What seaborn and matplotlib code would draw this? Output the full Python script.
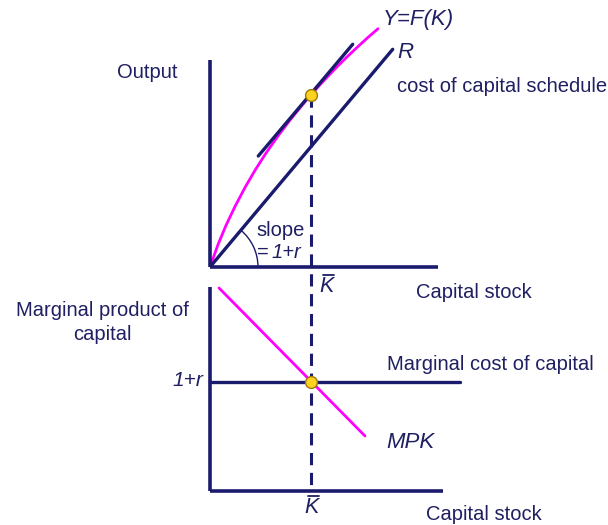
import numpy as np
import matplotlib
matplotlib.use("Agg")
import matplotlib.pyplot as plt
from matplotlib.patches import Arc
from matplotlib.lines import Line2D
import seaborn as sns

sns.set_theme(style="white")
plt.rcParams['font.family'] = ['Liberation Sans', 'DejaVu Sans']

# ---------------- data (diagram units) ----------------
# top panel: production function Y = F(K)
f_k = [0, 8, 16, 25, 35, 45, 56, 68, 80, 92, 101, 112, 124, 136, 148, 158, 168]
f_y = [0, 22.4, 41.6, 60.5, 79.5, 96.7, 113.9, 131.0, 146.9, 161.6, 172.1,
       184.4, 197.1, 209.1, 220.5, 229.6, 238.3]
# cost of capital schedule R (line through origin)
r_k = [0, 182.7]
r_y = [0, 217.7]
# tangent to F at K-bar
tan_k = [48.3, 142.7]
tan_y = [111, 222.7]
k_bar = 101
y_at_kbar = 172.1

# bottom panel
mpk_k = [9, 155]
mpk_v = [203, 55]
mcc_k = [0, 250]
one_plus_r = 109

NAVY = '#1b1b6e'
TEXT = '#1f1f62'
MAG = '#ff00ff'
YEL = '#ffd21f'

W, H = 608, 525
fig = plt.figure(figsize=(W / 100, H / 100), dpi=100)


def add_axes_px(x0, y_top, x1, y_bot):
    return fig.add_axes([x0 / W, 1 - y_bot / H, (x1 - x0) / W, (y_bot - y_top) / H])


# top axes: origin at pixel (210, 267)
ax1 = add_axes_px(210, 0, 610, 267)
ax1.set_xlim(0, 400)
ax1.set_ylim(0, 267)
# bottom axes: origin at pixel (210, 491)
ax2 = add_axes_px(210, 270, 610, 491)
ax2.set_xlim(0, 400)
ax2.set_ylim(0, 221)

for ax, (xb, yb) in ((ax1, (228, 207)), (ax2, (233, 204))):
    ax.set_facecolor('none')
    ax.set_xticks([])
    ax.set_yticks([])
    for s in ('top', 'right'):
        ax.spines[s].set_visible(False)
    for s in ('left', 'bottom'):
        ax.spines[s].set_color(NAVY)
        ax.spines[s].set_linewidth(2.6)
        ax.spines[s].set_capstyle('butt')
    ax.spines['bottom'].set_bounds(0, xb)
    ax.spines['left'].set_bounds(0, yb)

# top panel curves
sns.lineplot(x=f_k, y=f_y, ax=ax1, color=MAG, lw=2.0, sort=False, estimator=None)
sns.lineplot(x=r_k, y=r_y, ax=ax1, color=NAVY, lw=2.4, estimator=None)
sns.lineplot(x=tan_k, y=tan_y, ax=ax1, color=NAVY, lw=2.4, estimator=None)
ax1.add_patch(Arc((0, 0), 96, 96, theta1=0, theta2=np.degrees(np.arctan2(r_y[1], r_k[1])),
                  color=NAVY, lw=1.0))
# dashed K-bar line through both panels
ax1.plot([k_bar, k_bar], [y_at_kbar, -224], color=NAVY, lw=2.2,
         dashes=(4, 2.5), clip_on=False, zorder=2)
ax1.plot([k_bar], [y_at_kbar], 'o', ms=8.5, mfc=YEL, mec='#9a7a00', mew=1.0, zorder=5)

# bottom panel
sns.lineplot(x=mcc_k, y=[one_plus_r, one_plus_r], ax=ax2, color=NAVY, lw=2.4, estimator=None)
sns.lineplot(x=mpk_k, y=mpk_v, ax=ax2, color=MAG, lw=2.0, estimator=None)
ax2.plot([k_bar], [one_plus_r], 'o', ms=8.5, mfc=YEL, mec='#9a7a00', mew=1.0, zorder=5)


def txt(x, y, s, ha='left', size=14.5, style='normal', va='center'):
    fig.text(x / W, 1 - y / H, s, ha=ha, va=va, fontsize=size, color=TEXT, style=style)


def kbar(xc, baseline):
    txt(xc, baseline, 'K', ha='center', size=15.5, style='italic', va='baseline')
    yb = 1 - (baseline - 17.5) / H
    fig.add_artist(Line2D([(xc - 4) / W, (xc + 6.5) / W], [yb, yb],
                          color=TEXT, lw=1.3, transform=fig.transFigure))


txt(147, 72, 'Output', ha='center')
txt(383, 19, 'Y=F(K)', size=16, style='italic')
txt(397, 52, 'R', size=16, style='italic')
txt(397, 86, 'cost of capital schedule')
txt(281, 230, 'slope', ha='center')
txt(257, 252, '=')
txt(271, 252, '1+r', style='italic')
kbar(327, 292)
txt(416, 292, 'Capital stock')
txt(102, 311, 'Marginal product of', ha='center')
txt(102, 334, 'capital', ha='center')
txt(203, 381, '1+r', ha='right', size=15, style='italic')
txt(387, 364, 'Marginal cost of capital')
txt(386, 442, 'MPK', size=16, style='italic')
kbar(312, 513)
txt(426, 514, 'Capital stock')

fig.savefig('out.png', dpi=100)
